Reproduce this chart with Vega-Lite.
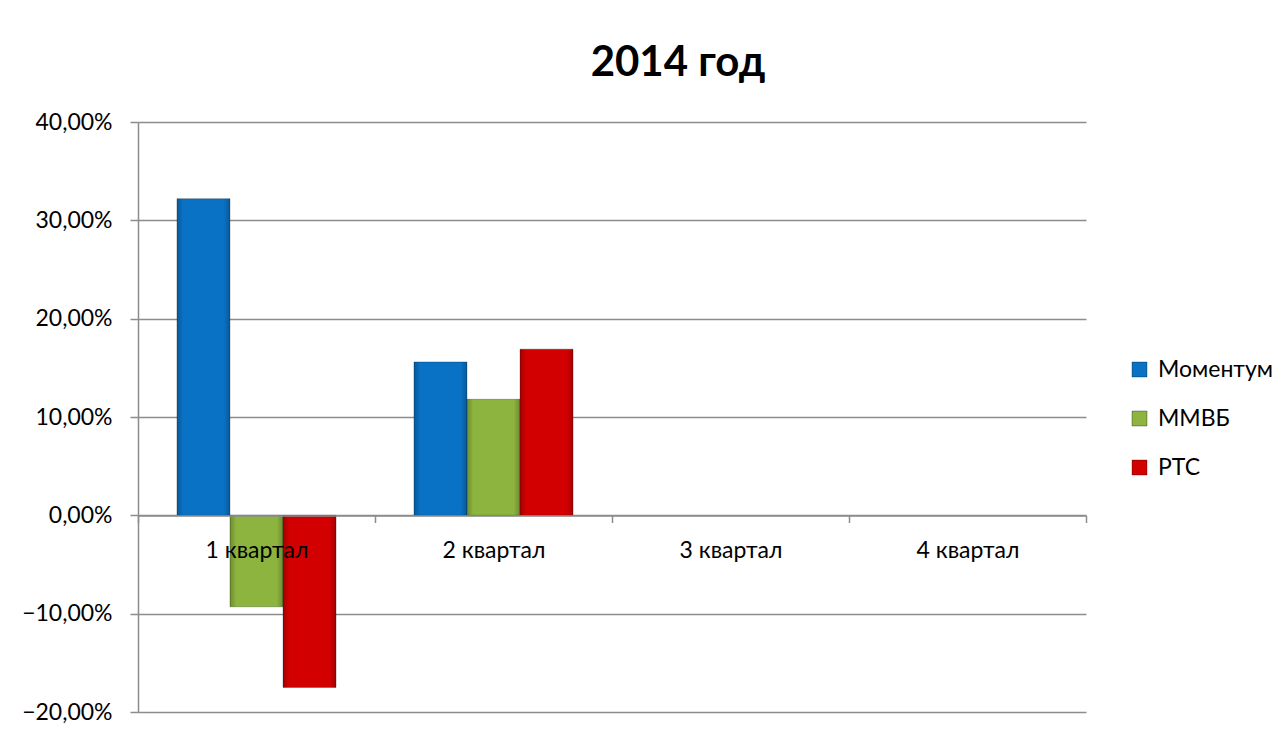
{
  "$schema": "https://vega.github.io/schema/vega-lite/v6.json",
  "width": 948,
  "height": 590,
  "autosize": {"type": "none"},
  "padding": {"left": 138, "top": 122, "right": 201, "bottom": 23},
  "background": "white",
  "config": {
    "font": "Lato",
    "view": {"stroke": null}
  },
  "title": {
    "text": "2014 год",
    "fontSize": 42,
    "fontWeight": "bold",
    "font": "Lato",
    "color": "black",
    "anchor": "middle",
    "frame": "group",
    "dx": 66,
    "baseline": "alphabetic",
    "offset": -7
  },
  "data": {
    "values": [
      {"quarter": "1 квартал", "series": "Моментум", "value": 0.322},
      {"quarter": "1 квартал", "series": "ММВБ", "value": -0.093},
      {"quarter": "1 квартал", "series": "РТС", "value": -0.175},
      {"quarter": "2 квартал", "series": "Моментум", "value": 0.156},
      {"quarter": "2 квартал", "series": "ММВБ", "value": 0.118},
      {"quarter": "2 квартал", "series": "РТС", "value": 0.169}
    ]
  },
  "encoding": {
    "x": {
      "field": "quarter",
      "type": "nominal",
      "scale": {
        "domain": ["1 квартал", "2 квартал", "3 квартал", "4 квартал"],
        "paddingInner": 0,
        "paddingOuter": 0
      },
      "axis": {
        "title": null,
        "offset": -196.5,
        "labelAngle": 0,
        "labelFontSize": 23,
        "labelColor": "black",
        "labelPadding": 17,
        "labelFont": "Lato",
        "domainColor": "#8c8c8c",
        "domainWidth": 1.5,
        "tickColor": "#8c8c8c",
        "tickWidth": 1.5,
        "tickSize": 7,
        "tickBand": "extent",
        "grid": false,
        "zindex": 1
      }
    },
    "xOffset": {
      "field": "series",
      "type": "nominal",
      "sort": ["Моментум", "ММВБ", "РТС"],
      "scale": {"paddingInner": 0, "paddingOuter": 0.735}
    },
    "y": {
      "field": "value",
      "type": "quantitative",
      "scale": {"domain": [-0.2, 0.4], "nice": false, "zero": false},
      "axis": {
        "title": null,
        "values": [-0.2, -0.1, 0, 0.1, 0.2, 0.3, 0.4],
        "labelExpr": "replace(format(datum.value, '.2%'), '.', ',')",
        "labelFontSize": 23,
        "labelColor": "black",
        "labelFont": "Lato",
        "labelPadding": 18,
        "tickSize": 8,
        "tickColor": "#8c8c8c",
        "tickWidth": 1.5,
        "domainColor": "#8c8c8c",
        "domainWidth": 1.5,
        "grid": true,
        "gridColor": "#8c8c8c",
        "gridWidth": 1.5
      }
    }
  },
  "layer": [
    {
      "mark": {"type": "bar", "stroke": "#00000040", "strokeWidth": 1},
      "encoding": {
        "color": {
          "field": "series",
          "type": "nominal",
          "sort": ["Моментум", "ММВБ", "РТС"],
          "scale": {
            "domain": ["Моментум", "ММВБ", "РТС"],
            "range": ["#0A72C4", "#8DB43E", "#D20000"]
          },
          "legend": {
            "title": null,
            "orient": "none",
            "legendX": 990,
            "legendY": 236,
            "symbolType": "square",
            "symbolSize": 225,
            "symbolStrokeColor": "#00000050",
            "symbolStrokeWidth": 1,
            "labelFontSize": 23,
            "labelFont": "Lato",
            "labelColor": "black",
            "labelOffset": 7,
            "rowPadding": 25
          }
        }
      }
    },
    {
      "mark": {
        "type": "bar",
        "fill": {
          "gradient": "linear",
          "x1": 0, "y1": 0, "x2": 1, "y2": 0,
          "stops": [
            {"offset": 0, "color": "rgba(0,0,0,0.22)"},
            {"offset": 0.12, "color": "rgba(0,0,0,0)"},
            {"offset": 0.88, "color": "rgba(0,0,0,0)"},
            {"offset": 1, "color": "rgba(0,0,0,0.22)"}
          ]
        }
      },
      "encoding": {}
    }
  ]
}
